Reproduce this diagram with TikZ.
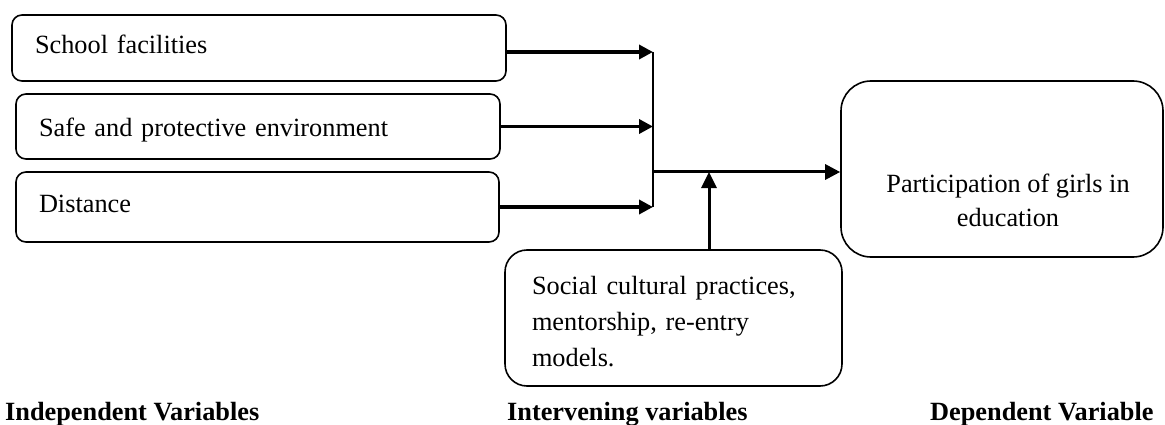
\documentclass[tikz,border=0pt]{standalone}
\usepackage{fontspec}
\setmainfont{Liberation Serif}
\usetikzlibrary{arrows.meta}
\newcommand{\diagfont}{\fontsize{26.3}{36}\selectfont}
\tikzset{
  basebox/.style={draw, line width=1.6pt, align=left, inner ysep=0pt},
  varbox/.style={basebox, rounded corners=10pt, inner xsep=23pt, text height=18pt, text depth=7pt},
  link/.style={line width=3.5pt, -{Triangle[length=14pt,width=14pt]}},
  heading/.style={font=\diagfont\bfseries, anchor=base west, inner sep=0pt}
}
\begin{document}
\begin{tikzpicture}[x=1pt, y=-1pt, font=\diagfont]
\useasboundingbox (0,0) rectangle (1165,425);
% independent variables
\node (box1)[varbox, minimum height=66pt, text width=448pt] at (259,48) {School facilities};
\node (box2)[varbox, minimum height=65pt, text width=438pt, text height=21pt, text depth=0pt] at (258,126.5) {Safe and protective environment};
\node (box3)[varbox, minimum height=70pt, text width=437pt] at (257.5,207) {Distance};
% intervening and dependent variables
\node (interv)[basebox, rounded corners=22pt, inner xsep=27pt, minimum height=136pt, text width=283pt, text height=26pt] at (673.5,318) {Social cultural practices,\\mentorship, re-entry\\models.};
\node (dep)[draw, line width=1.6pt, rounded corners=30pt, minimum width=322pt, minimum height=176pt] at (1002,169) {};
\node (deptext)[align=center, font=\fontsize{26.3}{34}\selectfont] at (1008,200) {Participation of girls in\\education};
\coordinate (jn) at (653,172);
\coordinate (mid) at (709,172);
\draw[link] ([yshift=-4pt]box1.east) -- ([yshift=-4pt]box1.east -| jn);
\draw[link] (box2.east) -- (box2.east -| jn);
\draw[link] (box3.east) -- (box3.east -| jn);
\draw[line width=2pt] ([yshift=-4pt]box1.east -| jn) -- (box3.east -| jn);
\draw[line width=3pt, -{Triangle[length=15pt,width=15pt]}] (jn) -- (jn -| dep.west);
\draw[line width=3pt, -{Triangle[length=16pt,width=15pt]}] (interv.north -| mid) -- (mid);
% headings
\node (indep)[heading] at (5,420) {Independent Variables};
\node (intervh)[heading] at (507,420) {Intervening variables};
\node (deph)[heading] at (930,420) {Dependent Variable};
\end{tikzpicture}
\end{document}
